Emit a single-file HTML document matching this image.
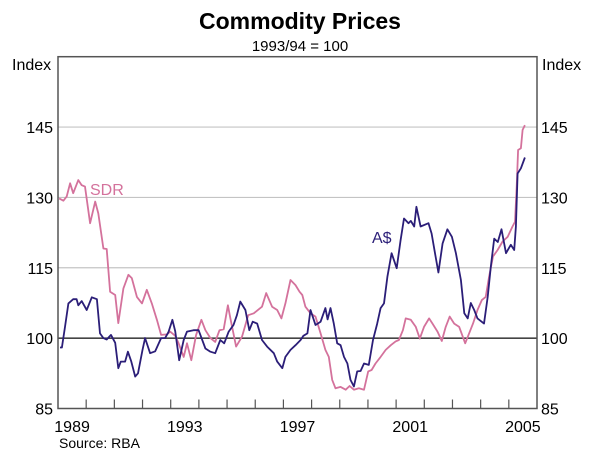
<!DOCTYPE html>
<html><head><meta charset="utf-8"><style>
body{margin:0;background:#fff;}
svg{display:block;font-family:"Liberation Sans",Arial,sans-serif;}
</style></head><body>
<svg id="chart" width="600" height="469" viewBox="0 0 600 469">
<text x="300" y="29" text-anchor="middle" font-size="23" font-weight="bold" fill="#000">Commodity Prices</text>
<text x="300" y="51" text-anchor="middle" font-size="15" fill="#000">1993/94 = 100</text>
<text x="12" y="70" font-size="16" fill="#000">Index</text>
<text x="542" y="70" font-size="16" fill="#000">Index</text>
<g id="grid"></g>
<g id="series"></g>
<rect x="58" y="56.7" width="479" height="351.8" fill="none" stroke="#555" stroke-width="1.5"/>
<g id="axes"></g>
<text x="90" y="195" font-size="16" fill="#d4729c">SDR</text>
<text x="372" y="243" font-size="16" fill="#2b1e78">A$</text>
<text x="59" y="448" font-size="14" fill="#000">Source: RBA</text>
</svg>
<script>
const yTicks=[85,100,115,130,145];
const xLabels=[1989,1993,1997,2001,2005];
const audDates=[1989.07,1989.14,1989.25,1989.37,1989.54,1989.66,1989.72,1989.84,1990.02,1990.20,1990.38,1990.49,1990.61,1990.73,1990.88,1991.03,1991.14,1991.23,1991.38,1991.48,1991.60,1991.74,1991.84,1992.00,1992.09,1992.27,1992.45,1992.66,1992.80,1992.92,1993.06,1993.16,1993.30,1993.46,1993.58,1993.81,1993.99,1994.23,1994.41,1994.58,1994.76,1994.90,1995.06,1995.23,1995.35,1995.47,1995.65,1995.79,1995.91,1996.07,1996.24,1996.42,1996.66,1996.78,1996.96,1997.07,1997.25,1997.43,1997.61,1997.71,1997.85,1997.96,1998.14,1998.32,1998.49,1998.57,1998.67,1998.79,1998.91,1999.03,1999.15,1999.27,1999.38,1999.50,1999.62,1999.74,1999.86,2000.03,2000.18,2000.33,2000.45,2000.57,2000.69,2000.84,2001.02,2001.16,2001.28,2001.44,2001.52,2001.64,2001.72,2001.87,2002.15,2002.26,2002.38,2002.50,2002.65,2002.82,2002.98,2003.12,2003.30,2003.42,2003.54,2003.65,2003.77,2003.89,2004.12,2004.25,2004.36,2004.48,2004.61,2004.74,2004.90,2005.07,2005.19,2005.25,2005.31,2005.43,2005.57];
const audValues=[98.0,98.0,102.4,107.4,108.3,108.3,107.0,107.9,106.0,108.7,108.3,101.0,100.0,99.7,100.7,99.0,93.6,95.0,95.0,97.1,95.0,91.8,92.5,97.5,100.0,96.8,97.2,100.0,100.0,101.3,103.9,101.5,95.3,99.6,101.4,101.7,101.7,97.8,97.1,96.8,99.6,98.9,101.4,102.8,104.9,107.8,106.0,101.7,103.5,103.1,99.6,98.2,96.8,95.0,93.6,96.0,97.5,98.5,99.6,100.5,101.0,106.0,102.8,103.5,106.4,104.0,106.4,103.1,98.9,98.5,96.0,94.6,91.1,89.7,92.9,93.0,94.6,94.3,99.6,103.1,106.4,107.4,113.1,118.1,114.9,120.9,125.5,124.5,125.0,123.8,128.0,123.8,124.5,122.3,118.1,114.0,120.2,123.2,121.6,118.1,112.4,105.3,104.2,107.5,106.0,104.2,103.1,108.8,115.2,121.2,120.5,123.2,118.1,119.9,118.8,123.8,135.1,136.2,138.5];
const sdrDates=[1989.04,1989.19,1989.31,1989.43,1989.54,1989.72,1989.84,1989.96,1990.14,1990.32,1990.43,1990.61,1990.73,1990.85,1991.03,1991.14,1991.32,1991.50,1991.62,1991.80,1991.98,1992.15,1992.33,1992.51,1992.66,1992.87,1992.98,1993.16,1993.28,1993.46,1993.58,1993.73,1993.90,1994.09,1994.23,1994.41,1994.58,1994.73,1994.88,1995.03,1995.12,1995.32,1995.53,1995.75,1995.95,1996.24,1996.39,1996.60,1996.78,1996.93,1997.07,1997.25,1997.43,1997.57,1997.67,1997.78,1997.96,1998.14,1998.32,1998.49,1998.61,1998.73,1998.85,1999.03,1999.21,1999.35,1999.50,1999.68,1999.86,2000.01,2000.13,2000.27,2000.45,2000.63,2000.81,2000.98,2001.10,2001.24,2001.34,2001.52,2001.70,2001.84,2001.99,2002.17,2002.29,2002.47,2002.62,2002.76,2002.90,2003.06,2003.24,2003.45,2003.59,2003.73,2003.89,2004.04,2004.18,2004.30,2004.44,2004.60,2004.78,2004.96,2005.13,2005.22,2005.28,2005.33,2005.43,2005.49,2005.57];
const sdrValues=[129.8,129.3,130.2,133.0,130.9,133.7,132.6,132.3,124.5,129.1,126.6,119.1,119.0,109.9,109.2,103.2,110.6,113.5,112.8,108.8,107.4,110.3,107.4,103.9,100.7,100.8,101.4,100.5,98.9,96.0,98.9,95.3,100.7,103.9,101.7,100.0,99.2,101.7,101.9,107.0,104.2,98.2,100.3,104.9,105.3,106.7,109.6,106.7,106.0,104.2,107.4,112.4,111.3,109.9,109.2,106.7,105.3,104.6,101.0,97.5,96.0,91.1,89.3,89.6,89.0,89.8,89.0,89.3,89.0,92.9,93.2,94.6,96.0,97.5,98.5,99.3,99.6,101.7,104.2,103.9,102.4,99.9,102.4,104.2,103.1,101.4,99.4,102.4,104.6,103.1,102.4,98.9,101.0,103.1,106.0,108.1,108.8,113.1,117.4,118.8,120.6,121.6,123.8,124.8,132.3,140.1,140.5,144.4,145.4];

const L=58,R=537,T=56.7,B=408.5,X0=1989,X1=2006,Y0=85,Y1=160;
const NS='http://www.w3.org/2000/svg';
function xs(v){return L+(v-X0)/(X1-X0)*(R-L);}
function ys(v){return B-(v-Y0)/(Y1-Y0)*(B-T);}
function mk(tag,attrs,parent){const e=document.createElementNS(NS,tag);for(const k in attrs)e.setAttribute(k,attrs[k]);parent.appendChild(e);return e;}
const grid=document.getElementById('grid'),axes=document.getElementById('axes'),series=document.getElementById('series');
yTicks.forEach(v=>{
  if(v>Y0){
    const g=mk('line',{x1:L,x2:R,y1:ys(v),y2:ys(v),stroke:v===100?'#444':'#c4c4c4','stroke-width':v===100?1.6:1.2},grid);
    
    
  }
  const a=mk('text',{x:53,y:ys(v)+6,'text-anchor':'end','font-size':16,fill:'#000'},axes);a.textContent=v;
  
  
  const b=mk('text',{x:541,y:ys(v)+6,'font-size':16,fill:'#000'},axes);b.textContent=v;
  
  
});
for(let yr=X0+1;yr<X1;yr++){
  const t=mk('line',{x1:xs(yr),x2:xs(yr),y1:B,y2:B-9,stroke:'#555','stroke-width':1.2},axes);
  
  
}
xLabels.forEach(yr=>{
  const t=mk('text',{x:xs(yr+0.5),y:432,'text-anchor':'middle','font-size':16,fill:'#000'},axes);t.textContent=yr;
  
  
});
function line(d,v,color,name){
  const p=mk('polyline',{points:d.map((x,i)=>xs(x).toFixed(1)+','+ys(v[i]).toFixed(1)).join(' '),fill:'none',stroke:color,'stroke-width':1.8,'stroke-linejoin':'round'},series);
  
  
}
line(sdrDates,sdrValues,'#d4729c','sdr-line');
line(audDates,audValues,'#2b1e78','aud-line');
</script>
</body></html>
